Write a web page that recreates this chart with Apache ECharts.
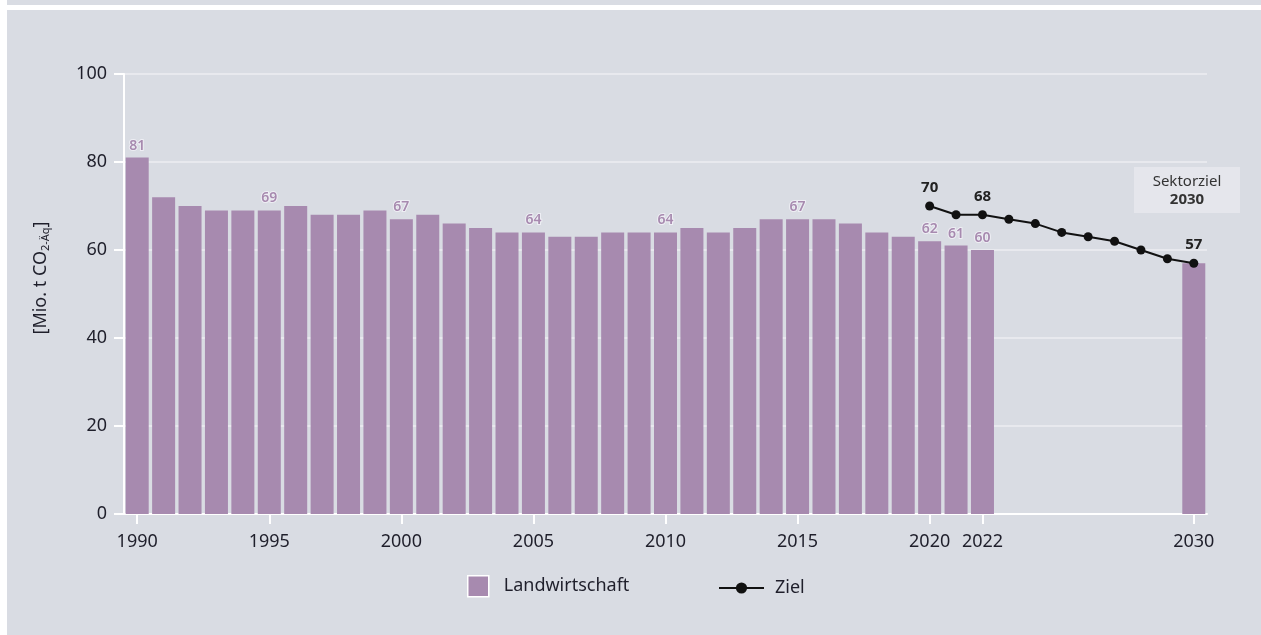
<!DOCTYPE html>
<html>
<head>
<meta charset="utf-8">
<script src="https://cdn.jsdelivr.net/npm/echarts@6/dist/echarts.min.js"></script>
<style>
html,body{margin:0;padding:0;background:#fff;}
#c{width:1261px;height:635px;}
</style>
</head>
<body>
<div id="c"></div>
<script>
const years = [];
for (let y = 1990; y <= 2030; y++) years.push(String(y));

const barYears = ['1990','1991','1992','1993','1994','1995','1996','1997','1998','1999','2000','2001','2002','2003','2004','2005','2006','2007','2008','2009','2010','2011','2012','2013','2014','2015','2016','2017','2018','2019','2020','2021','2022','2030'];
const barValues = [81,72,70,69,69,69,70,68,68,69,67,68,66,65,64,64,63,63,64,64,64,65,64,65,67,67,67,66,64,63,62,61,60,57];
const barLabelYears = ['1990','1995','2000','2005','2010','2015','2020','2021','2022'];

const zielYears = ['2020','2021','2022','2023','2024','2025','2026','2027','2028','2029','2030'];
const zielValues = [70,68,68,67,66,64,63,62,60,58,57];
const zielLabelYears = ['2020','2022','2030'];

const tickYears = ['1990','1995','2000','2005','2010','2015','2020','2022','2030'];
const yTicks = [0,20,40,60,80,100];

const FONT = 'Noto Sans';
const BAR = '#a78aaf';
const TXT = '#1f1f2b';

const barData = years.map(y => {
  const i = barYears.indexOf(y);
  if (i < 0) return '-';
  return {
    value: barValues[i],
    label: { show: barLabelYears.includes(y) }
  };
});
const lineData = years.map(y => {
  const i = zielYears.indexOf(y);
  if (i < 0) return '-';
  return {
    value: zielValues[i],
    label: { show: zielLabelYears.includes(y) }
  };
});

const chart = echarts.init(document.getElementById('c'), null, {renderer: 'canvas'});
chart.setOption({
  backgroundColor: '#ffffff',
  animation: false,
  textStyle: { fontFamily: FONT },
  graphic: [
    { type: 'rect', z: -10, silent: true, shape: { x: 7, y: 0, width: 1254, height: 5 }, style: { fill: '#d9dce3' } },
    { type: 'rect', z: -10, silent: true, shape: { x: 7, y: 10, width: 1254, height: 625 }, style: { fill: '#d9dce3' } },
    { type: 'rect', z: 10, shape: { x: 1134, y: 167, width: 106, height: 46 }, style: { fill: '#e5e6ec' } },
    { type: 'text', z: 11, x: 1187, y: 182, style: { text: 'Sektorziel', fontFamily: FONT, fontSize: 15, fill: '#333', align: 'center', verticalAlign: 'middle' } },
    { type: 'text', z: 11, x: 1187, y: 200, style: { text: '2030', fontFamily: FONT, fontSize: 15, fontWeight: 'bold', fill: '#333', align: 'center', verticalAlign: 'middle' } },
    { type: 'text', z: 11, x: 41, y: 278, rotation: Math.PI / 2,
      style: {
        text: '{a|[Mio. t CO}{s|2-Äq}{a|]}',
        align: 'center', verticalAlign: 'middle',
        rich: {
          a: { fontFamily: FONT, fontSize: 18, fill: TXT, color: TXT },
          s: { fontFamily: FONT, fontSize: 11, fill: TXT, color: TXT, padding: [9, 0, 0, 0] }
        }
      } }
  ],
  grid: { left: 124, right: 54, top: 74, bottom: 121, containLabel: false },
  legend: [
    {
      data: ['Landwirtschaft'], left: 467, top: 575, padding: 0,
      itemWidth: 21, itemHeight: 21, icon: 'rect',
      itemStyle: { borderColor: '#ffffff', borderWidth: 1.5 },
      textStyle: { fontFamily: FONT, fontSize: 18, color: TXT, padding: [0, 0, 0, 10] }
    },
    {
      data: ['Ziel'], left: 718, top: 579, padding: 0,
      itemWidth: 45, itemHeight: 14,
      textStyle: { fontFamily: FONT, fontSize: 18, color: TXT, padding: [0, 0, 0, 6] }
    }
  ],
  xAxis: {
    type: 'category',
    data: years,
    boundaryGap: true,
    axisLine: { lineStyle: { color: '#ffffff', width: 2 } },
    axisTick: {
      show: true, alignWithLabel: true, length: 10,
      lineStyle: { color: '#ffffff', width: 2 },
      interval: (i, v) => tickYears.includes(v)
    },
    axisLabel: {
      interval: (i, v) => tickYears.includes(v),
      fontFamily: FONT, fontSize: 18, color: TXT, margin: 19
    },
    splitLine: { show: false }
  },
  yAxis: {
    type: 'value', min: 0, max: 100, interval: 20,
    axisLine: { show: true, lineStyle: { color: '#ffffff', width: 2 } },
    axisTick: { show: true, length: 10, lineStyle: { color: '#ffffff', width: 2 } },
    axisLabel: { fontFamily: FONT, fontSize: 18, color: TXT, margin: 17,
      formatter: v => yTicks.includes(v) ? String(v) : '' },
    splitLine: { show: true, lineStyle: { color: '#eceef2', width: 1.5 } }
  },
  series: [
    {
      name: 'Landwirtschaft', type: 'bar', data: barData, barWidth: 23,
      itemStyle: { color: BAR },
      label: {
        position: 'top', distance: 5, fontFamily: FONT, fontSize: 14, fontWeight: 600,
        color: BAR, textBorderColor: 'rgba(240,240,245,0.9)', textBorderWidth: 2
      }
    },
    {
      name: 'Ziel', type: 'line', data: lineData, connectNulls: false,
      symbol: 'circle', symbolSize: 9,
      lineStyle: { color: '#111111', width: 2 },
      itemStyle: { color: '#111111' },
      label: {
        position: 'top', distance: 6, fontFamily: FONT, fontSize: 15, fontWeight: 'bold',
        color: '#222'
      },
      z: 5
    }
  ]
});
</script>
</body>
</html>
